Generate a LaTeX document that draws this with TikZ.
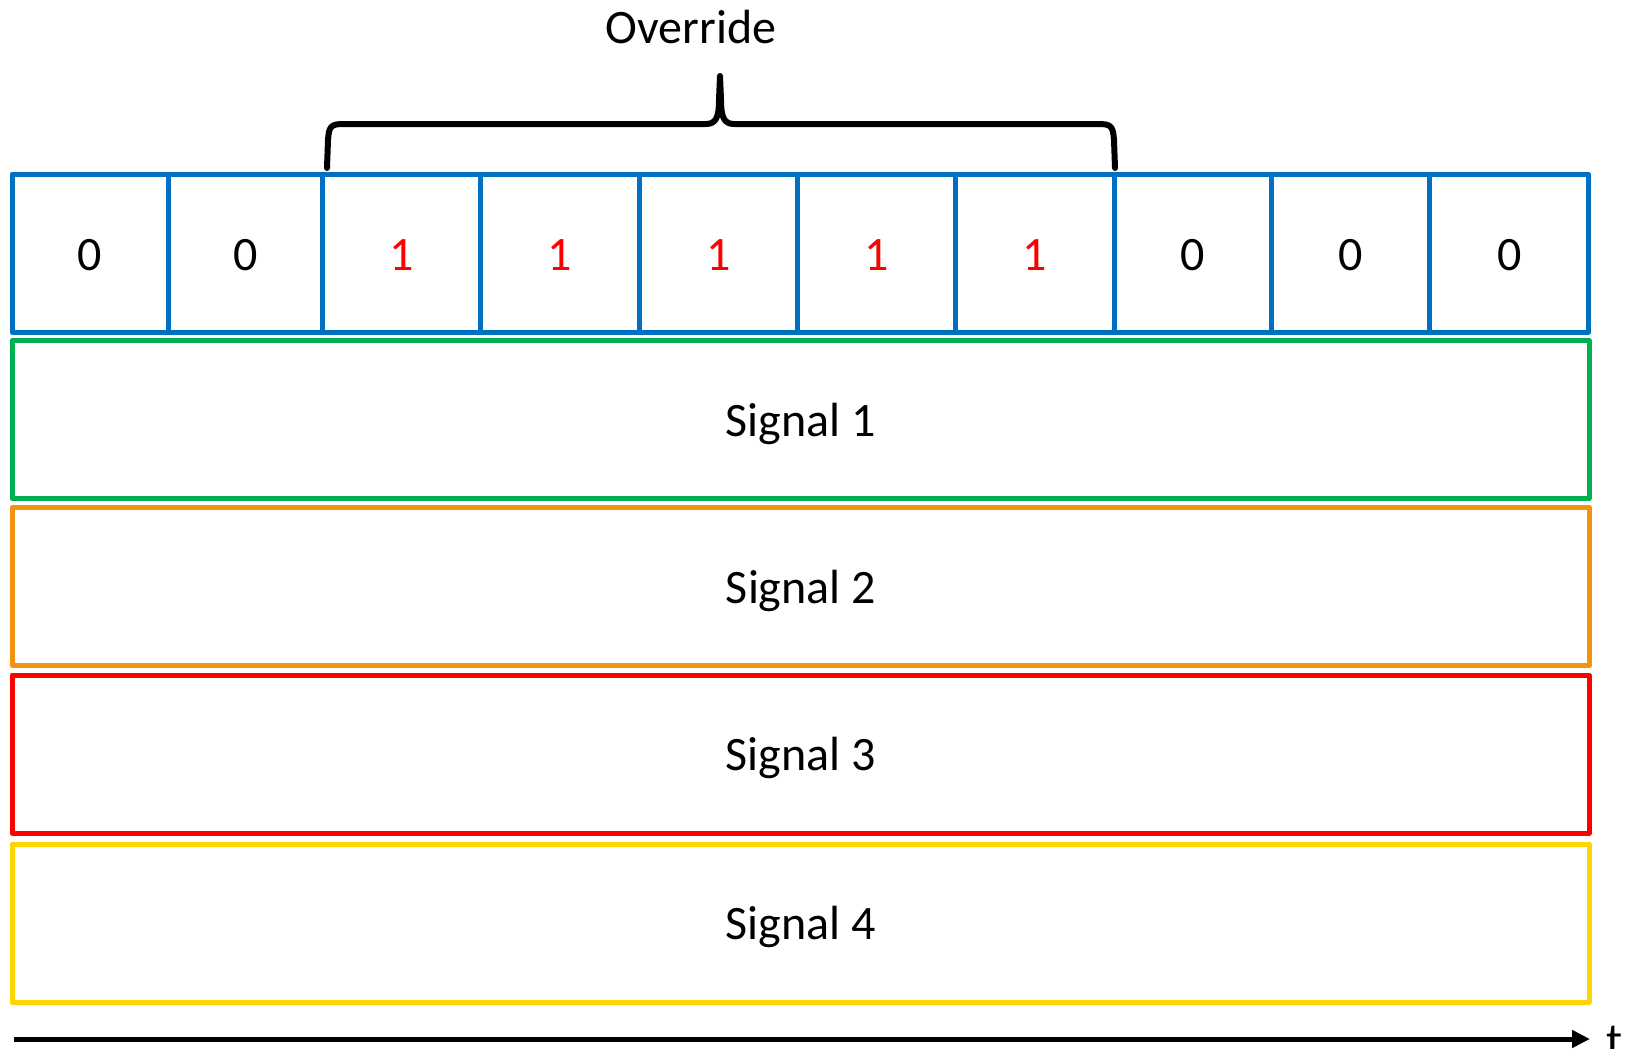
\documentclass[tikz,border=0pt]{standalone}
\usepackage{fontspec}
\setmainfont{Carlito}
\usetikzlibrary{arrows.meta}
\definecolor{cellblue}{HTML}{0070C0}
\definecolor{sgreen}{HTML}{00B050}
\definecolor{sorange}{HTML}{F39410}
\definecolor{sred}{HTML}{FF0000}
\definecolor{syellow}{HTML}{FFD500}
% set a label a little lower without changing its box
\newcommand\lowtext[2]{\raisebox{-#1}[\height][\depth]{#2}}
\tikzset{
  lbl/.style={font=\fontsize{48}{58}\selectfont, inner sep=0pt},
  cell/.style={lbl, draw=cellblue, line width=5pt, line join=round,
    minimum height=158pt},
  sigrow/.style={lbl, line width=5pt, line join=round,
    minimum width=1577pt, minimum height=158pt},
  hot/.style={text=sred},
}
\begin{document}
\begin{tikzpicture}[x=1pt,y=-1pt]
\useasboundingbox (0,0) rectangle (1628,1049);
% bit cells of the override flag (left edge / right edge / value / style)
\foreach \i/\l/\r/\v/\s in {1/12/168.2/0/, 2/168.2/322.9/0/,
    3/322.9/480.7/1/hot, 4/480.7/639.6/1/hot, 5/639.6/797.4/1/hot,
    6/797.4/955.2/1/hot, 7/955.2/1114.1/1/hot, 8/1114.1/1271.9/0/,
    9/1271.9/1429.7/0/, 10/1429.7/1588.6/0/}{
  \node[cell,\s, minimum width={(\r-\l)*1pt}] (c\i) at ({(\l+\r)/2},253) {\lowtext{2pt}{\v}};
}
% signal rows
\node[sigrow, draw=sgreen]  (s1) at (800.5,419.5) {\lowtext{4pt}{Signal 1}};
\node[sigrow, draw=sorange] (s2) at (801,586.5)   {\lowtext{4pt}{Signal 2}};
\node[sigrow, draw=sred]    (s3) at (800.5,754)   {\lowtext{4pt}{Signal 3}};
\node[sigrow, draw=syellow] (s4) at (800.5,923)   {\lowtext{4pt}{Signal 4}};
% brace over the overridden cells
\draw[line width=6pt, line cap=round, line join=round]
  (327,168) -- (328,140) .. controls (329,126) and (331,124) .. (344,124)
  -- (706,124) .. controls (716,124) and (719,117) .. (719,100) -- (720,76)
  -- (721,100) .. controls (721,117) and (724,124) .. (734,124)
  -- (1098,124) .. controls (1111,124) and (1113,126) .. (1114,140) -- (1115,168);
\node[lbl] (ovr) at (691,27) {Override};
% time axis
\coordinate (t0) at (14,1039);
\coordinate (t1) at (1590,1039);
\draw[line width=5pt, -{Triangle[length=18pt,width=17pt]}] (t0) -- (t1);
\node[lbl, anchor=base] (tl) at (1615,1056) {t};
\end{tikzpicture}
\end{document}
